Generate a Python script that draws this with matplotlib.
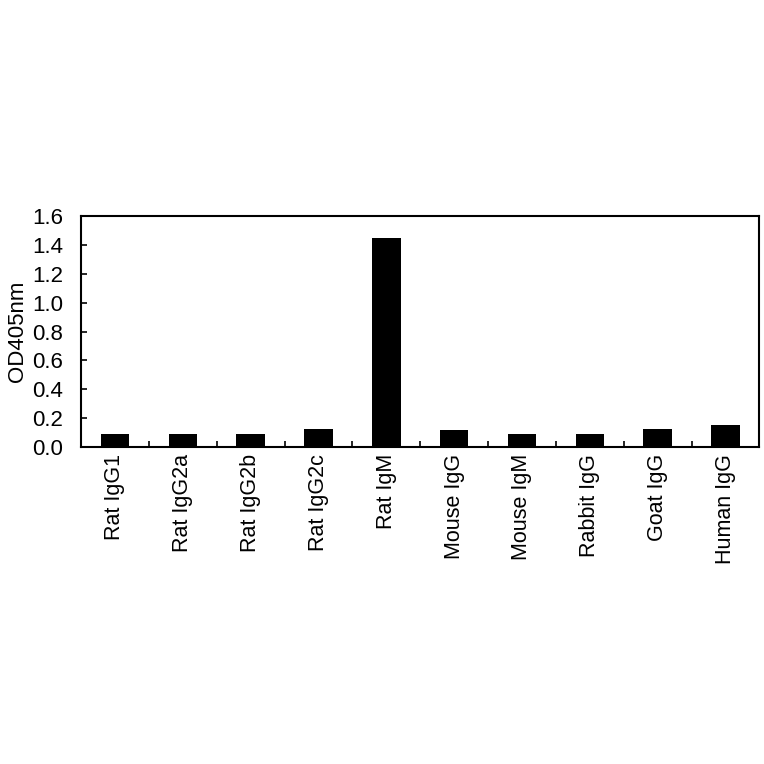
import matplotlib
matplotlib.use("Agg")
import matplotlib.pyplot as plt
import numpy as np

# -------------------------------
# Data
# -------------------------------
categories = ["Rat IgG1", "Rat IgG2a", "Rat IgG2b", "Rat IgG2c", "Rat IgM",
              "Mouse IgG", "Mouse IgM", "Rabbit IgG", "Goat IgG", "Human IgG"]
od405 = [0.088, 0.088, 0.088, 0.127, 1.452, 0.115, 0.088, 0.088, 0.125, 0.155]
yticks = [0.0, 0.2, 0.4, 0.6, 0.8, 1.0, 1.2, 1.4, 1.6]

plt.rcParams["font.family"] = ["Liberation Sans", "DejaVu Sans"]

fig = plt.figure(figsize=(7.64, 7.64), dpi=100)
ax = fig.add_axes([0.106, 0.415, 0.888, 0.302])

x = np.arange(len(categories))
ax.bar(x, od405, width=0.42, color="black")

ax.set_xlim(-0.5, len(categories) - 0.5)
ax.set_ylim(0, 1.6)
ax.set_yticks(yticks)
ax.set_yticklabels([f"{v:.1f}" for v in yticks], fontsize=16)
ax.set_ylabel("OD405nm", fontsize=16, labelpad=3)

# category labels at centres, tick marks between categories
ax.set_xticks(x)
ax.set_xticklabels(categories, rotation=90, fontsize=15.5)
ax.tick_params(axis="x", length=0, pad=5)
ax.set_xticks(np.arange(0.5, len(categories) - 0.5, 1), minor=True)
ax.tick_params(axis="x", which="minor", direction="in", length=4, width=1.2)
ax.tick_params(axis="y", direction="in", length=4, width=1.2, pad=13)

for s in ax.spines.values():
    s.set_linewidth(1.5)

fig.savefig("out.png", dpi=100)
